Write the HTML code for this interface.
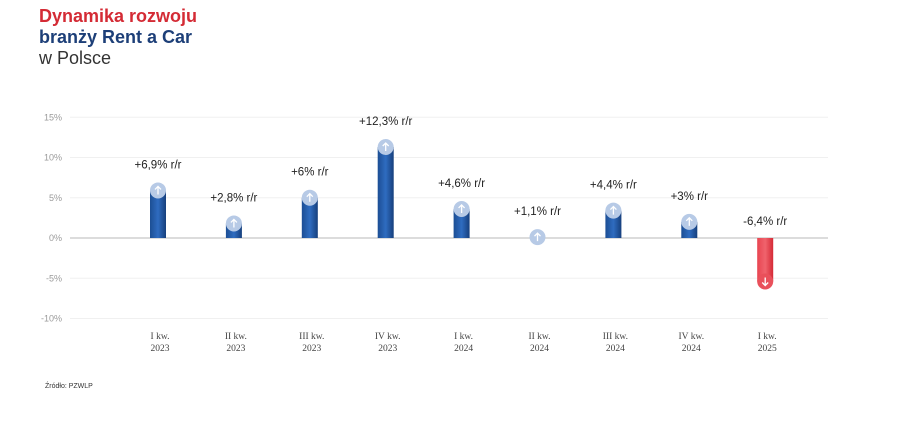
<!DOCTYPE html>
<html><head><meta charset="utf-8"><style>
body{margin:0;background:#fff;width:900px;height:425px;overflow:hidden;font-family:"Liberation Sans",sans-serif}
.t{position:absolute;left:39px;font-size:18px;line-height:21px}
</style></head><body>
<div class="t" style="top:6px;color:#d42b35;font-weight:bold">Dynamika rozwoju</div>
<div class="t" style="top:27px;color:#1d3f78;font-weight:bold">branży Rent a Car</div>
<div class="t" style="top:48px;color:#333">w Polsce</div>
<svg id="c" width="900" height="425" style="position:absolute;left:0;top:0">
<defs>
<linearGradient id="gb" x1="0" x2="1"><stop offset="0" stop-color="#1c4e94"/><stop offset="0.5" stop-color="#2f6cc0"/><stop offset="1" stop-color="#163f7c"/></linearGradient>
<linearGradient id="gr" x1="0" x2="1"><stop offset="0" stop-color="#e84450"/><stop offset="0.5" stop-color="#f0636d"/><stop offset="1" stop-color="#d52a36"/></linearGradient>
</defs>
<text x="45" y="388" font-size="7" fill="#333">Źródło: PZWLP</text>
</svg>
<script>
const categories=["I kw.|2023","II kw.|2023","III kw.|2023","IV kw.|2023","I kw.|2024","II kw.|2024","III kw.|2024","IV kw.|2024","I kw.|2025"];
const values=[6.9,2.8,6,12.3,4.6,1.1,4.4,3,-6.4];
const labels=["+6,9% r/r","+2,8% r/r","+6% r/r","+12,3% r/r","+4,6% r/r","+1,1% r/r","+4,4% r/r","+3% r/r","-6,4% r/r"];
const ticks=[15,10,5,0,-5,-10];
const tickLabels=["15%","10%","5%","0%","-5%","-10%"];
const svg=document.getElementById('c');const NS="http://www.w3.org/2000/svg";
const y=v=>238-v*8.05;
const x=i=>158+i*75.9;
function mk(t,a){const e=document.createElementNS(NS,t);for(const k in a)e.setAttribute(k,a[k]);svg.appendChild(e);return e;}
ticks.forEach((t,i)=>{
const l=mk('line',{x1:70,x2:828,y1:y(t),y2:y(t),stroke:t===0?'#c8c8c8':'#f0f0f0','stroke-width':t===0?1.2:1});


const tx=mk('text',{x:62,y:y(t)+3,'text-anchor':'end','font-size':9,fill:'#9a9a9a'});tx.textContent=tickLabels[i];


});
values.forEach((v,i)=>{
const cx=x(i),neg=v<0,w=16,r=8;
const yv=y(v),y0=y(0);
const top=Math.min(yv,y0),bot=Math.max(yv,y0);
if(Math.abs(v)>1.5){
const b=mk('rect',{x:cx-w/2,y:neg?top:top+r,width:w,height:Math.max(0,bot-top-r),fill:neg?'url(#gr)':'url(#gb)'});


}
const ccy=neg?yv-r:yv+r;
const c=mk('circle',{cx:cx,cy:ccy,r:r,fill:neg?'#e9505b':'#b7cae6'});


const ar=mk('path',{d:neg?`M${cx} ${ccy-4}V${ccy+4}M${cx-3} ${ccy+1}L${cx} ${ccy+4}L${cx+3} ${ccy+1}`:`M${cx} ${ccy+4}V${ccy-4}M${cx-3} ${ccy-1}L${cx} ${ccy-4}L${cx+3} ${ccy-1}`,stroke:'#fff','stroke-width':1.3,fill:'none'});


const ly=neg?y(0)-13:yv-14;
const lt=mk('text',{x:cx,y:ly,'text-anchor':'middle','font-size':11.5,fill:'#222'});lt.textContent=labels[i];


const p=categories[i].split('|');
p.forEach((s,j)=>{const t=mk('text',{x:cx+2,y:339+j*12,'text-anchor':'middle','font-size':9.5,fill:'#444','font-family':'Liberation Serif,serif'});t.textContent=s;

});
});
</script>
</body></html>
